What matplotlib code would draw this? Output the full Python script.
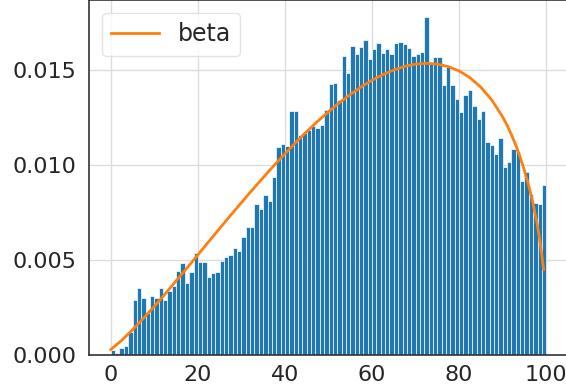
import matplotlib
matplotlib.use("Agg")
import matplotlib.pyplot as plt

# Histogram bins (left edges) and density heights
bin_edges = list(range(0, 101))
bar_heights = [
    0.00026, 0.00011, 0.00039, 0.00047, 0.0012, 0.0029, 0.0035, 0.0030, 0.0022, 0.0031,
    0.0030, 0.0035, 0.0029, 0.00337, 0.00365, 0.0044, 0.00484, 0.00377, 0.00435, 0.00538,
    0.00491, 0.00488, 0.00412, 0.00432, 0.00437, 0.00493, 0.00516, 0.00525, 0.00565, 0.00547,
    0.00621, 0.00675, 0.00675, 0.00793, 0.00767, 0.00842, 0.00812, 0.00939, 0.01096, 0.01111,
    0.0110, 0.01284, 0.01284, 0.01156, 0.01167, 0.01184, 0.01205, 0.01193, 0.0121, 0.0129,
    0.01425, 0.01432, 0.0134, 0.01572, 0.01486, 0.01628, 0.01584, 0.01623, 0.01658, 0.01556,
    0.0161, 0.01644, 0.01588, 0.0161, 0.01582, 0.01644, 0.01647, 0.01637, 0.01618, 0.01574,
    0.01584, 0.01593, 0.0178, 0.01535, 0.0157, 0.0157, 0.01421, 0.01517, 0.01421, 0.01345,
    0.01278, 0.01368, 0.01393, 0.01309, 0.01242, 0.01282, 0.01121, 0.01104, 0.01059, 0.0114,
    0.0099, 0.01014, 0.01084, 0.01075, 0.00917, 0.00961, 0.00847, 0.00802, 0.00796, 0.00893,
]

# Beta curve points
beta_x = [0, 2.5, 5, 7.5, 10, 12.5, 15, 17.5, 20, 22.5, 25, 27.5, 30, 32.5, 35, 37.5,
          40, 42.5, 45, 47.5, 50, 52.5, 55, 57.5, 60, 62.5, 65, 67.5, 70, 72.5, 75,
          77.5, 80, 82.5, 85, 87.5, 90, 91, 92, 93, 94, 95, 96, 97, 98, 98.5, 99, 99.4]
beta_y = [0.00029, 0.00077, 0.00133, 0.00193, 0.00256, 0.00322, 0.00390, 0.00458,
          0.00527, 0.00597, 0.00666, 0.00735, 0.00802, 0.00869, 0.00934, 0.00998,
          0.01059, 0.01119, 0.01176, 0.01230, 0.01280, 0.01328, 0.01371, 0.01411,
          0.01446, 0.01476, 0.01500, 0.01519, 0.01531, 0.01535, 0.01531, 0.01518,
          0.01495, 0.01459, 0.01409, 0.01342, 0.01253, 0.01210, 0.01160, 0.01105,
          0.01042, 0.00970, 0.00890, 0.00795, 0.00680, 0.00608, 0.00524, 0.00450]

x_ticks = [0, 20, 40, 60, 80, 100]
y_ticks = [0.000, 0.005, 0.010, 0.015]
y_tick_labels = ["0.000", "0.005", "0.010", "0.015"]

W, H = 566, 392
fig = plt.figure(figsize=(W / 100, H / 100), dpi=100)
ax = fig.add_axes([89 / W, 37 / H, (568 - 89) / W, 355 / H])
ax.set_facecolor("white")

ax.bar(bin_edges[:-1], bar_heights, width=1, align="edge", color="#1f77b4",
       edgecolor="white", linewidth=0.5, zorder=2)
ax.plot(beta_x, beta_y, color="#ff7f0e", lw=2, label="beta", zorder=3)

ax.set_xlim(-5, 105)
ax.set_ylim(0, 0.018684)
ax.set_xticks(x_ticks)
ax.set_yticks(y_ticks)
ax.set_yticklabels(y_tick_labels)
ax.grid(True, color="#dddddd", linewidth=1, zorder=0)
ax.set_axisbelow(True)
ax.tick_params(axis="both", length=0, labelsize=16, colors="#262626")
ax.tick_params(axis="y", pad=9)
ax.tick_params(axis="x", pad=7)
for s in ax.spines.values():
    s.set_color("#333333")
    s.set_linewidth(1.2)

leg = ax.legend(loc="upper left", fontsize=17, frameon=True, fancybox=True,
                borderpad=0.4, handlelength=2.0, borderaxespad=0.55)
leg.get_frame().set_edgecolor("#dddddd")
for t in leg.get_texts():
    t.set_color("#262626")

fig.savefig("out.png", dpi=100)
